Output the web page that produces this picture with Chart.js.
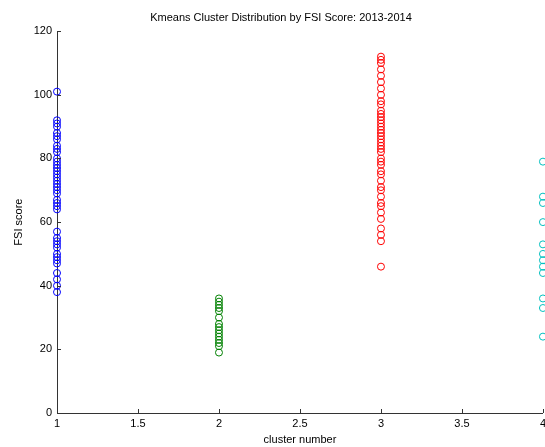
<!DOCTYPE html>
<html>
<head>
<meta charset="utf-8">
<script src="https://cdn.jsdelivr.net/npm/chart.js@4"></script>
<style>
    html, body { margin: 0; padding: 0; background: #fff; overflow: hidden; }
    #wrap { width: 550px; height: 447px; }
</style>
</head>
<body>
<div id="wrap"><canvas id="chart"></canvas></div>
<script>
const chartTitle = 'Kmeans Cluster Distribution by FSI Score: 2013-2014';
const clusterIds = [1, 2, 3, 4];
const clusterColors = ['#0000ff', '#008000', '#ff0000', '#00bfbf'];
const xTicks = [1, 1.5, 2, 2.5, 3, 3.5, 4];
const yTicks = [0, 20, 40, 60, 80, 100, 120];

const blueScores = [101, 92, 91, 90, 88, 87, 86, 84, 83, 82, 80, 79, 78, 77, 76, 75, 74, 73, 72, 71, 70, 69, 67, 66, 65, 64, 57, 55, 54, 53, 52, 50, 49, 48, 47, 44, 42, 40, 38];
const greenScores = [36, 35, 34, 33, 32, 30, 28, 27, 26, 25, 24, 23, 22, 21, 19];
const redScores = [112, 111, 110, 108, 106, 104, 102, 100, 98, 97, 95, 94, 93, 92, 91, 90, 89, 88, 87, 86, 85, 84, 83, 82, 80, 79, 78, 76, 75, 73, 71, 70, 68, 66, 65, 63, 61, 58, 56, 54, 46];
const cyanScores = [79, 68, 66, 60, 53, 50, 48, 46, 44, 36, 33, 24];

const allScores = [blueScores, greenScores, redScores, cyanScores];

document.addEventListener('DOMContentLoaded', function() {
    createScatter();
});

// matlab style ticks pointing into the plot
const inwardTicks = {
    id: 'inwardTicks',
    afterDraw(chart) {
        const ctx = chart.ctx;
        const area = chart.chartArea;
        const xs = chart.scales.x;
        const ys = chart.scales.y;
        ctx.save();
        ctx.strokeStyle = '#333';
        ctx.lineWidth = 1;
        ctx.beginPath();
        xTicks.forEach(v => {
            const px = Math.round(xs.getPixelForValue(v)) + 0.5;
            ctx.moveTo(px, area.bottom);
            ctx.lineTo(px, area.bottom - 4);
        });
        yTicks.forEach(v => {
            const py = Math.round(ys.getPixelForValue(v)) + 0.5;
            ctx.moveTo(area.left, py);
            ctx.lineTo(area.left + 4, py);
        });
        ctx.stroke();
        ctx.restore();
    }
};

function createScatter() {
    const ctx = document.getElementById('chart').getContext('2d');
    const datasets = clusterIds.map((id, i) => ({
        label: 'Cluster ' + id,
        data: allScores[i].map(s => ({ x: id, y: s })),
        borderColor: clusterColors[i],
        backgroundColor: 'rgba(0,0,0,0)',
        pointRadius: 3.5,
        pointBorderWidth: 1,
        showLine: false,
        clip: false
    }));

    new Chart(ctx, {
        type: 'scatter',
        data: { datasets: datasets },
        plugins: [inwardTicks],
        options: {
            responsive: true,
            maintainAspectRatio: false,
            animation: false,
            layout: { padding: { left: 12, right: 0, top: 0, bottom: 0 } },
            plugins: {
                legend: { display: false },
                tooltip: { enabled: false },
                title: {
                    display: true,
                    text: chartTitle,
                    color: '#000',
                    font: { family: 'Liberation Sans', size: 11, weight: 'normal' },
                    padding: { top: 11, bottom: 7 }
                }
            },
            scales: {
                x: {
                    type: 'linear',
                    min: 1,
                    max: 4,
                    afterBuildTicks: scale => { scale.ticks = xTicks.map(v => ({ value: v })); },
                    afterFit: scale => { scale.height = 34; },
                    grid: { display: false, drawTicks: false },
                    border: { display: true, color: '#333' },
                    ticks: {
                        color: '#000',
                        padding: 4,
                        maxRotation: 0,
                        callback: v => String(v),
                        font: { family: 'Liberation Sans', size: 11 }
                    },
                    title: {
                        display: true,
                        text: 'cluster number',
                        color: '#000',
                        padding: 0,
                        font: { family: 'Liberation Sans', size: 11 }
                    }
                },
                y: {
                    min: 0,
                    max: 120,
                    afterBuildTicks: scale => { scale.ticks = yTicks.map(v => ({ value: v })); },
                    afterFit: scale => { scale.width = 45; },
                    grid: { display: false, drawTicks: false },
                    border: { display: true, color: '#333' },
                    ticks: {
                        color: '#000',
                        padding: 5,
                        callback: v => String(v),
                        font: { family: 'Liberation Sans', size: 11 }
                    },
                    title: {
                        display: true,
                        text: 'FSI score',
                        color: '#000',
                        padding: 0,
                        font: { family: 'Liberation Sans', size: 11 }
                    }
                }
            }
        }
    });
}
</script>
</body>
</html>
